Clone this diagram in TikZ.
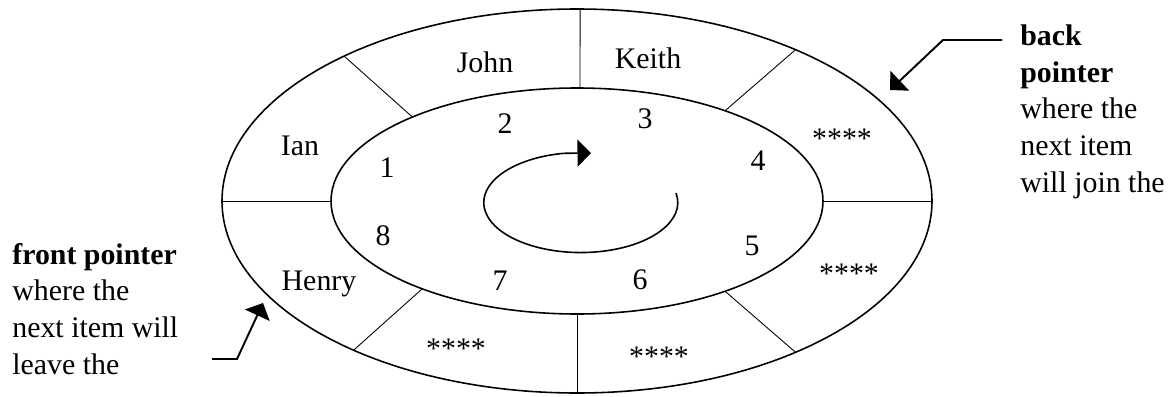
\documentclass[tikz,border=0pt]{standalone}
\usepackage{fontspec}
\setmainfont{Liberation Serif}
\usepackage{tikz}
\usetikzlibrary{arrows.meta}

\begin{document}
\begin{tikzpicture}[
    x=0.02cm, y=-0.02cm,
    every node/.style={font=\fontsize{17}{20.8}\selectfont, inner sep=0pt},
    ring/.style={line width=0.9pt},
    divider/.style={line width=0.5pt},
    slot/.style={anchor=base},
    note/.style={anchor=base west, align=left},
    pointer/.style={-{Triangle[length=0.27cm, width=0.54cm]}, line width=1.1pt},
    turn/.style={-{Triangle[length=0.27cm, width=0.54cm]}, line width=0.9pt},
]
\useasboundingbox (0,0) rectangle (1173,396);

% queue rings
\coordinate (c) at (577,201);
\draw[ring] (c) ellipse [x radius=355, y radius=192];
\draw[ring] (c) ellipse [x radius=246, y radius=113];
\foreach \a/\b in {0/0, 52/53, 89.5/89.3, 131/132, 180/180, 231/231, 270/270, 308/307}
  \draw[divider] ({577+246*cos(\b)},{201-113*sin(\b)}) -- ({577+355*cos(\a)},{201-192*sin(\a)});

% direction of travel
\draw[turn] (676,193) arc[start angle=-11, end angle=260, x radius=97, y radius=50] -- (591,153);

% items
\node[slot] (john)  at (485,72)  {John};
\node[slot] (keith) at (648,68)  {Keith};
\node[slot] (ian)   at (300,155) {Ian};
\node[slot] (henry) at (319,290) {Henry};
\node[slot] (free4) at (842,148) {****};
\node[slot] (free5) at (849,283) {****};
\node[slot] (free6) at (659,366) {****};
\node[slot] (free7) at (456,358) {****};

% slot numbers
\node[slot] (n1) at (387,177) {1};
\node[slot] (n2) at (505,133) {2};
\node[slot] (n3) at (645,128) {3};
\node[slot] (n4) at (758,170) {4};
\node[slot] (n5) at (752,255) {5};
\node[slot] (n6) at (640,289) {6};
\node[slot] (n7) at (500,290) {7};
\node[slot] (n8) at (383,245) {8};

% pointers (base = last line)
\node[note] (frontlbl) at (12,374) {\textbf{front pointer}\\where the\\next item will\\leave the};
\node[note] (backlbl) at (1020,192) {\textbf{back}\\\textbf{pointer}\\where the\\next item\\will join the};

\coordinate (fronttail) at (212,359);
\coordinate (frontbend) at (237,359);
\coordinate (fronttip)  at (263,303);
\coordinate (backtail) at (1002,40);
\coordinate (backbend) at (943,40);
\coordinate (backtip)  at (890,90);
\draw[pointer] (fronttail) -- (frontbend) -- (fronttip);
\draw[pointer] (backtail) -- (backbend) -- (backtip);
\end{tikzpicture}
\end{document}
